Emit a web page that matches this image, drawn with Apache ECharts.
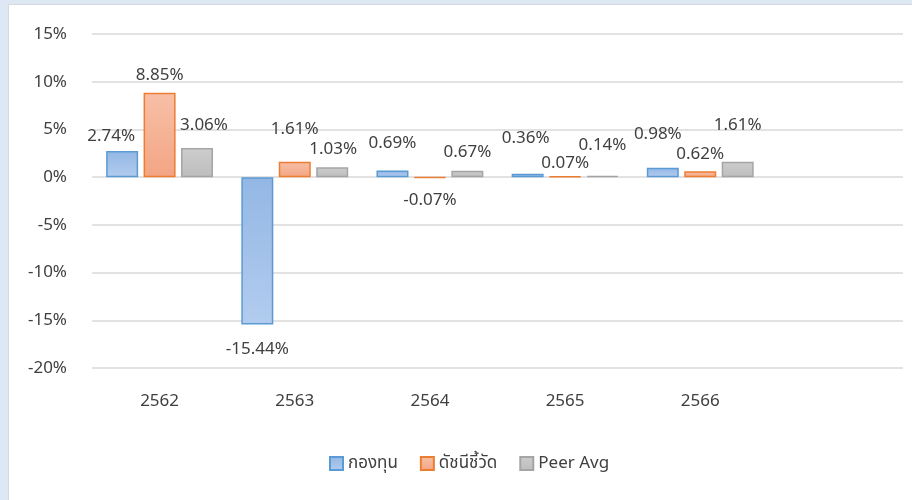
<!DOCTYPE html>
<html>
<head>
<meta charset="utf-8">
<script src="https://cdn.jsdelivr.net/npm/echarts@6/dist/echarts.min.js"></script>
<style>
  html, body { margin: 0; padding: 0; }
  #frame { width: 912px; height: 500px; background: #dee8f4; position: relative; overflow: hidden; }
  #chart { position: absolute; left: 8px; top: 4px; width: 904px; height: 496px; background: #fff; box-sizing: border-box; border-left: 1px solid #d4d9df; border-top: 1px solid #d4d9df; }
</style>
</head>
<body>
<div id="frame"><div id="chart"></div></div>
<script>
// years (Thai calendar) - last slot is left empty like the source
var categories = ['2562', '2563', '2564', '2565', '2566', ''];
var fundValues = [2.74, -15.44, 0.69, 0.36, 0.98];
var benchValues = [8.85, 1.61, -0.07, 0.07, 0.62];
var peerValues = [3.06, 1.03, 0.67, 0.14, 1.61];
var seriesNames = ['กองทุน', 'ดัชนีชี้วัด', 'Peer Avg'];

// label nudges [dx, dy] so the labels stagger the way Excel placed them
var fundNudge = [[-11, 4], [0, 6], [0, -9], [-2, -17], [-5, -15]];
var benchNudge = [[0, 1], [0, -14], [0, 3], [0, 6], [0, 1]];
var peerNudge = [[7, -4], [1, 0], [0, 0], [0, -12], [0, -18]];

var FONT = '"Noto Sans", "Noto Sans Thai", Tahoma, sans-serif';
var TXT = '#404040';
var FS = 17;

function grad(c1, c2) {
    return new echarts.graphic.LinearGradient(0, 0, 0, 1, [
        { offset: 0, color: c1 },
        { offset: 1, color: c2 }
    ]);
}

function toItems(arr, nudge) {
    return arr.map(function (v, i) {
        return {
            value: v,
            label: { position: v < 0 ? 'bottom' : 'top', offset: nudge[i] }
        };
    });
}

function makeSeries(name, values, nudge, fill, border) {
    return {
        name: name,
        type: 'bar',
        barWidth: 32,
        barGap: '17%',
        data: toItems(values, nudge),
        itemStyle: { color: fill, borderColor: border, borderWidth: 1.5 },
        label: {
            show: true,
            distance: 10,
            fontFamily: FONT,
            fontSize: FS,
            color: TXT,
            formatter: function (p) { return p.value.toFixed(2) + '%'; }
        }
    };
}

var myChart = echarts.init(document.getElementById('chart'));
var option = {
    animation: false,
    textStyle: { fontFamily: FONT },
    grid: { left: 83, right: 9, top: 29, bottom: 132 },
    legend: {
        left: 315,
        top: 445,
        itemWidth: 13,
        itemHeight: 13,
        itemGap: 22,
        icon: 'rect',
        textStyle: { fontFamily: FONT, fontSize: FS, color: TXT },
        data: seriesNames
    },
    xAxis: {
        type: 'category',
        data: categories,
        axisLine: { show: false, onZero: false },
        axisTick: { show: false },
        axisLabel: { fontFamily: FONT, fontSize: FS, color: TXT, margin: 25 }
    },
    yAxis: {
        type: 'value',
        min: -20,
        max: 15,
        interval: 5,
        axisLine: { show: false },
        axisTick: { show: false },
        splitLine: { lineStyle: { color: '#d9d9d9', width: 1.5 } },
        axisLabel: {
            fontFamily: FONT, fontSize: FS, color: TXT, margin: 25,
            formatter: '{value}%'
        }
    },
    series: [
        makeSeries(seriesNames[0], fundValues, fundNudge, grad('#93b7e4', '#b2ccee'), '#5b9bd5'),
        makeSeries(seriesNames[1], benchValues, benchNudge, grad('#f7c0a7', '#f3a583'), '#ed7d31'),
        makeSeries(seriesNames[2], peerValues, peerNudge, grad('#cdcdcd', '#bdbdbd'), '#a5a5a5')
    ]
};
myChart.setOption(option);
</script>
</body>
</html>
